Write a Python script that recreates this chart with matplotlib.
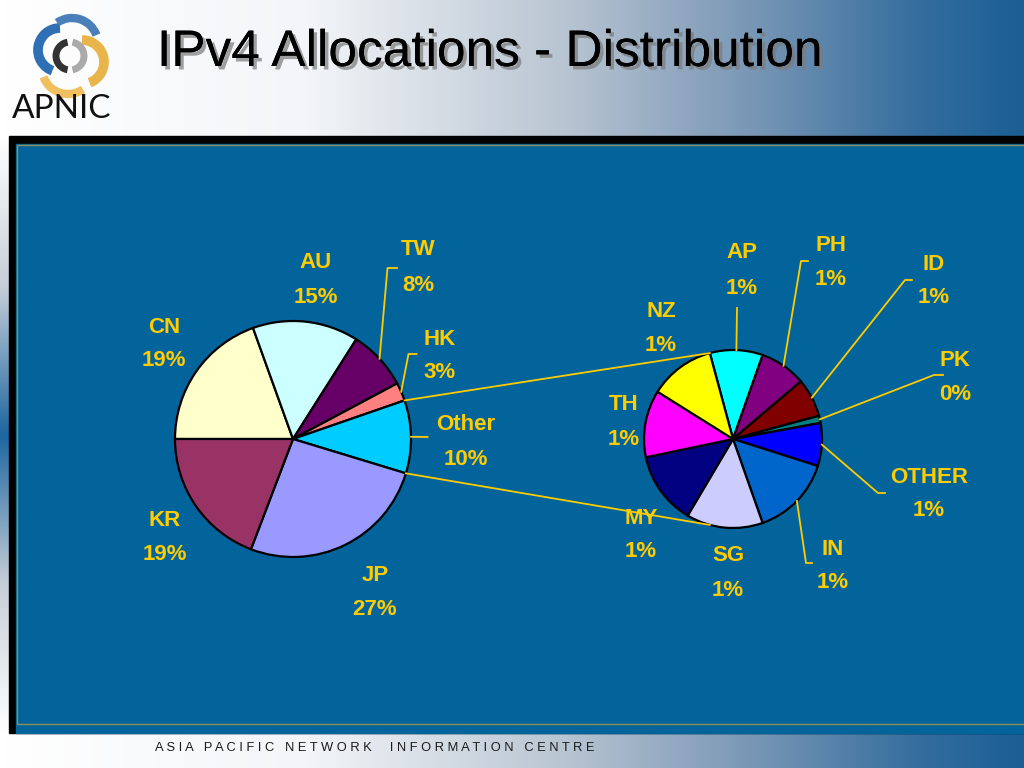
import numpy as np
import matplotlib.pyplot as plt
import matplotlib.patheffects as pe
from matplotlib.colors import LinearSegmentedColormap
from matplotlib.patches import Rectangle, Arc

# =========================
# DATA
# =========================

# main pie (share of total allocations, %)
main_names = ['CN', 'AU', 'TW', 'HK', 'Other', 'JP', 'KR']
main_share = [19.5, 14.5, 8.2, 2.5, 10.0, 26.1, 19.2]
main_labels = ['19%', '15%', '8%', '3%', '10%', '27%', '19%']
main_colors = ['#FFFFCC', '#CCFFFF', '#660066', '#FF8080', '#00CCFF', '#9999FF', '#993366']

# breakdown of "Other" (share of total, %)
sub_names = ['AP', 'PH', 'ID', 'PK', 'OTHER', 'IN', 'SG', 'MY', 'TH', 'NZ']
sub_share = [0.96, 0.84, 0.70, 0.13, 0.78, 1.47, 1.39, 1.32, 1.22, 1.19]
sub_labels = ['1%', '1%', '1%', '0%', '1%', '1%', '1%', '1%', '1%', '1%']
sub_colors = ['#00FFFF', '#800080', '#800000', '#008080', '#0000FF',
              '#0066CC', '#CCCCFF', '#000080', '#FF00FF', '#FFFF00']

title = 'IPv4 Allocations - Distribution'
footer = 'ASIA PACIFIC NETWORK  INFORMATION CENTRE'

# =========================
# LAYOUT (pixels, y measured from top)
# =========================

W, H = 1024, 768
GOLD = '#FFCC00'
PANEL = '#03649b'


def Y(y):
    return H - y


# label x, name centre y, percent centre y
main_pos = {'CN': (164, 325, 358), 'AU': (316, 260, 295), 'TW': (418, 247, 283),
            'HK': (440, 337, 370), 'Other': (466, 422, 457), 'JP': (375, 573, 607),
            'KR': (165, 518, 552)}
sub_pos = {'AP': (742, 250, 286), 'PH': (831, 243, 277), 'ID': (934, 262, 295),
           'PK': (955, 358, 392), 'OTHER': (929, 475, 508), 'IN': (833, 547, 580),
           'SG': (728, 553, 588), 'MY': (641, 516, 549), 'TH': (624, 402, 437),
           'NZ': (661, 309, 343)}

# leader line bends after leaving the wedge
main_leaders = {'TW': [(387.5, 268), (397, 268)], 'HK': [(408.5, 354), (416.5, 354)],
                'Other': [(427.5, 437)]}
sub_leaders = {'AP': [(737, 308)], 'PH': [(801, 261), (808, 261)],
               'ID': [(905, 280), (912, 280)], 'PK': [(934, 375), (943, 375)],
               'OTHER': [(878, 493), (885, 493)], 'IN': [(806, 563), (812, 563)]}

fig = plt.figure(figsize=(W / 100, H / 100), dpi=100)
ax = fig.add_axes([0, 0, 1, 1])

# --- background gradients ---
bg = LinearSegmentedColormap.from_list('bg', [(0, '#ffffff'), (0.3, '#f3f5f8'),
                                              (0.55, '#b9c5d2'), (0.75, '#7393b3'),
                                              (0.9, '#346d9e'), (1, '#1b5f95')])
ax.imshow(np.linspace(0, 1, 256)[None, :], cmap=bg, extent=(0, W, 0, H),
          aspect='auto', zorder=0)
side = LinearSegmentedColormap.from_list('side', ['#ffffff', '#c6ced8', '#1d66a0',
                                                  '#c6ced8', '#ffffff'])
ax.imshow(np.linspace(0, 1, 256)[:, None], cmap=side, extent=(0, 9, Y(733), Y(137)),
          aspect='auto', zorder=1)

# --- panel ---
ax.add_patch(Rectangle((9, Y(733)), W - 9, 733 - 136, color='black', zorder=2))
ax.add_patch(Rectangle((16, Y(733)), W - 16, 733 - 144, color=PANEL, zorder=3))
ax.add_patch(Rectangle((17, Y(724)), W + 10, 724 - 145, fill=False, ec='#8c8f5a',
                       lw=1, zorder=4))

# --- logo (rough swirl) ---
for cx, cy, r, t1, t2, col, lw in [
        (60, 50, 22, 90, 250, '#2f6fb3', 7), (72, 44, 26, 20, 125, '#4a7fba', 6),
        (82, 62, 22, -70, 90, '#e9b54a', 7), (68, 68, 26, 200, 305, '#f0c060', 6),
        (70, 56, 14, 100, 260, '#333333', 5), (70, 56, 14, -80, 80, '#aaaaaa', 5)]:
    ax.add_patch(Arc((cx, Y(cy)), 2 * r, 2 * r, theta1=t1, theta2=t2, color=col,
                     lw=lw, zorder=5))
ax.text(12, Y(118), 'APNIC', fontsize=24, family='Lato', color='#111111',
        va='baseline', zorder=5)

# --- title ---
ax.text(157, Y(66), title, fontsize=37, family='Liberation Sans', color='black',
        va='baseline', zorder=5,
        path_effects=[pe.withSimplePatchShadow(offset=(2.5, -2.5),
                                               shadow_rgbFace='#7a7a7a', alpha=0.7),
                      pe.Normal()])

# --- footer ---
ax.text(155, Y(751), ' '.join(footer), fontsize=9.3, family='Liberation Sans',
        color='#1a1a1a', va='baseline', zorder=5)

# --- pies ---
wp = dict(edgecolor='black', linewidth=1.6, zorder=6)
main_wedges, _ = ax.pie(main_share, colors=main_colors, startangle=180,
                        counterclock=False, center=(293, Y(439)), radius=118,
                        wedgeprops=wp, frame=True)
sub_wedges, _ = ax.pie(sub_share, colors=sub_colors, startangle=105.1,
                       counterclock=False, center=(733, Y(439)), radius=89,
                       wedgeprops=wp, frame=True)


def edge_point(w, ang):
    a = np.radians(ang)
    return w.center[0] + w.r * np.cos(a), w.center[1] + w.r * np.sin(a)


# connector lines between the pies
other = main_wedges[main_names.index('Other')]
first = sub_wedges[0]
top_sub = edge_point(first, first.theta2)
bot_sub = edge_point(first, -first.theta2)
for a, b in [(edge_point(other, other.theta2), top_sub),
             (edge_point(other, other.theta1), bot_sub)]:
    ax.plot([a[0], b[0]], [a[1], b[1]], color=GOLD, lw=1.3, zorder=7)


def draw_labels(wedges, names, labels, pos, leaders):
    for w, name, lab in zip(wedges, names, labels):
        if name in leaders:
            mid = (w.theta1 + w.theta2) / 2
            pts = [edge_point(w, mid)] + [(x, Y(y)) for x, y in leaders[name]]
            xs, ys = zip(*pts)
            ax.plot(xs, ys, color=GOLD, lw=1.3, zorder=7)
        x, y1, y2 = pos[name]
        for s, yc in [(name, y1), (lab, y2)]:
            ax.text(x, Y(yc + 8), s, fontsize=16, weight='bold',
                    family='Liberation Sans', color=GOLD, ha='center',
                    va='baseline', zorder=8)


draw_labels(main_wedges, main_names, main_labels, main_pos, main_leaders)
draw_labels(sub_wedges, sub_names, sub_labels, sub_pos, sub_leaders)

ax.set_xlim(0, W)
ax.set_ylim(0, H)
ax.set_aspect('auto')
ax.axis('off')

plt.savefig('out.png', dpi=100)
